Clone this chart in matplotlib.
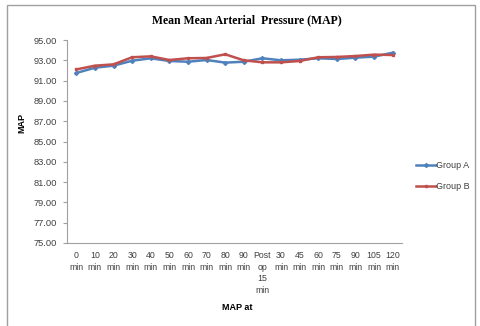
import matplotlib
matplotlib.use("Agg")
import matplotlib.pyplot as plt
from matplotlib.patches import Rectangle
from matplotlib.lines import Line2D

categories = ["0\nmin", "10\nmin", "20\nmin", "30\nmin", "40\nmin", "50\nmin", "60\nmin",
              "70\nmin", "80\nmin", "90\nmin", "Post\nop\n15\nmin", "30\nmin", "45\nmin",
              "60\nmin", "75\nmin", "90\nmin", "105\nmin", "120\nmin"]
group_a = [91.75, 92.27, 92.47, 92.96, 93.2, 92.93, 92.86, 93.03, 92.77, 92.86,
           93.2, 93.0, 93.06, 93.2, 93.13, 93.26, 93.36, 93.75]
group_b = [92.1, 92.47, 92.6, 93.3, 93.39, 93.03, 93.2, 93.23, 93.59, 93.0,
           92.8, 92.8, 92.93, 93.3, 93.33, 93.42, 93.56, 93.52]
yticks = [75, 77, 79, 81, 83, 85, 87, 89, 91, 93, 95]

W, H = 480, 326
fig = plt.figure(figsize=(W / 100, H / 100), dpi=100)
fig.patch.set_facecolor("white")

# outer chart border
fig.patches.append(Rectangle((7 / W, -0.01), (475 - 7) / W, (H - 5) / H + 0.01,
                             transform=fig.transFigure, fill=False,
                             edgecolor="#a0a0a0", linewidth=1.0))

ax = fig.add_axes([67 / W, 1 - 243 / H, (402 - 67) / W, (243 - 40) / H])
x = list(range(len(categories)))
ax.plot(x, group_a, color="#4F81BD", linewidth=1.8, marker="D", markersize=2.0,
        label="Group A")
ax.plot(x, group_b, color="#C0504D", linewidth=1.8, marker="s", markersize=2.0,
        label="Group B")

ax.set_xlim(-0.5, len(categories) - 0.5)
ax.set_ylim(75, 95)
ax.set_yticks(yticks)
ax.set_yticklabels([f"{v:.2f}" for v in yticks], fontsize=6.7, color="#404040",
                   family="Liberation Sans")
ax.set_xticks(x)
ax.set_xticklabels(categories, fontsize=6.3, color="#404040", family="Liberation Sans",
                   linespacing=1.35, va="top")
ax.tick_params(axis="x", length=0, pad=6)
ax.tick_params(axis="y", length=3, width=0.8, color="#a0a0a0", pad=4)
for s in ["top", "right"]:
    ax.spines[s].set_visible(False)
for s in ["left", "bottom"]:
    ax.spines[s].set_color("#a0a0a0")
    ax.spines[s].set_linewidth(0.8)

fig.text(0.5 * (150 + 343) / W, 1 - 20 / H, "Mean Mean Arterial  Pressure (MAP)",
         ha="center", va="center", fontsize=8.5, fontweight="bold",
         family="Liberation Serif")
fig.text(22 / W, 1 - 123 / H, "MAP", rotation=90, ha="center", va="center",
         fontsize=6.5, fontweight="bold", family="Liberation Sans")
fig.text(237 / W, 1 - 307 / H, "MAP at", ha="center", va="center",
         fontsize=6.5, fontweight="bold", family="Liberation Sans")

handles = [Line2D([], [], color="#4F81BD", linewidth=1.8, marker="D", markersize=2.0),
           Line2D([], [], color="#C0504D", linewidth=1.8, marker="s", markersize=2.0)]
leg = fig.legend(handles, ["Group A", "Group B"], loc="center left",
                 bbox_to_anchor=(408 / W, 1 - 176 / H), frameon=False,
                 prop={"family": "Liberation Sans", "size": 6.5},
                 handlelength=2.2, handletextpad=0.05, labelspacing=1.3)
for t in leg.get_texts():
    t.set_color("#404040")

fig.savefig("out.png", dpi=100)
